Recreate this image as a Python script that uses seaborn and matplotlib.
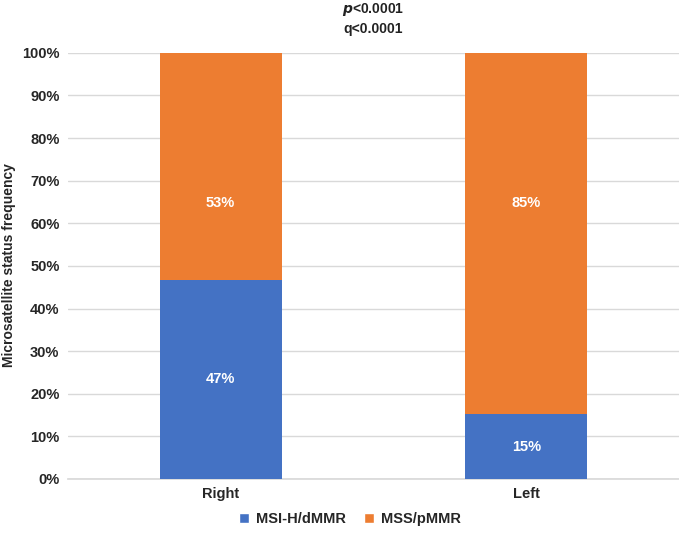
import matplotlib
matplotlib.use("Agg")
import matplotlib.pyplot as plt
import seaborn as sns
import pandas as pd
from matplotlib.patches import Patch

categories = ["Right", "Left"]
msi_h = [46.7, 15.2]
mss = [53.3, 84.8]
msi_labels = ["47%", "15%"]
mss_labels = ["53%", "85%"]
yticks = [0, 10, 20, 30, 40, 50, 60, 70, 80, 90, 100]

sns.set_theme(style="white")
plt.rcParams['font.family'] = ['Liberation Sans', 'DejaVu Sans']

blue = "#4472C4"
orange = "#ED7D31"

df = pd.DataFrame({"cat": categories, "msi": msi_h, "mss": mss})
df["total"] = df["msi"] + df["mss"]

fig = plt.figure(figsize=(6.79, 5.34), dpi=100)
ax = fig.add_axes([0.100, 0.103, 0.900, 0.798])

sns.barplot(data=df, x="cat", y="total", color=orange, saturation=1, width=0.4, ax=ax,
            zorder=3, linewidth=0)
sns.barplot(data=df, x="cat", y="msi", color=blue, saturation=1, width=0.4, ax=ax,
            zorder=3, linewidth=0)

ax.set_xlim(-0.5, 1.5)
ax.set_ylim(0, 100)
ax.set_yticks(yticks)
ax.set_yticklabels([f"{t}%" for t in yticks], fontsize=10.5, fontweight="bold")
ax.set_xticks(range(len(categories)))
ax.set_xticklabels(categories, fontsize=10.5, fontweight="bold")
ax.tick_params(axis="both", length=0, pad=6)
ax.grid(axis="y", color="#d9d9d9", linewidth=1, zorder=0)
for s in ["top", "right", "left"]:
    ax.spines[s].set_visible(False)
ax.spines["bottom"].set_color("#d9d9d9")
ax.set_xlabel("")
ax.set_ylabel("")
fig.text(9 / 679, 1 - 265 / 534, "Microsatellite status frequency", rotation=90, ha="center",
         va="center", fontsize=10, fontweight="bold")

# label placement as in the reference: MSI labels mid-segment, MSS labels at a common height
for i in range(len(categories)):
    ax.text(i, msi_h[i] / 2, msi_labels[i], ha="center", va="center", color="white",
            fontsize=10.5, fontweight="bold", zorder=5)
    ax.text(i, 0.648, mss_labels[i], ha="center", va="center", color="white",
            fontsize=10.5, fontweight="bold", zorder=5,
            transform=ax.get_xaxis_transform())

cx = 0.100 + 0.900 / 2
fig.text(cx, 1 - 9 / 534, r"$\mathbfit{p}$<0.0001", ha="center", va="center", fontsize=10,
         fontweight="bold", color="#222222")
fig.text(cx, 1 - 29 / 534, "q<0.0001", ha="center", va="center", fontsize=10,
         fontweight="bold", color="#222222")

handles = [Patch(facecolor=blue, label="MSI-H/dMMR"), Patch(facecolor=orange, label="MSS/pMMR")]
fig.legend(handles=handles, loc="center", bbox_to_anchor=(350 / 679, 1 - 519 / 534), ncol=2,
           frameon=False, prop={"weight": "bold", "size": 10.5}, handlelength=0.7,
           handleheight=0.7, columnspacing=1.2, handletextpad=0.5)

fig.savefig("out.png", dpi=100)
